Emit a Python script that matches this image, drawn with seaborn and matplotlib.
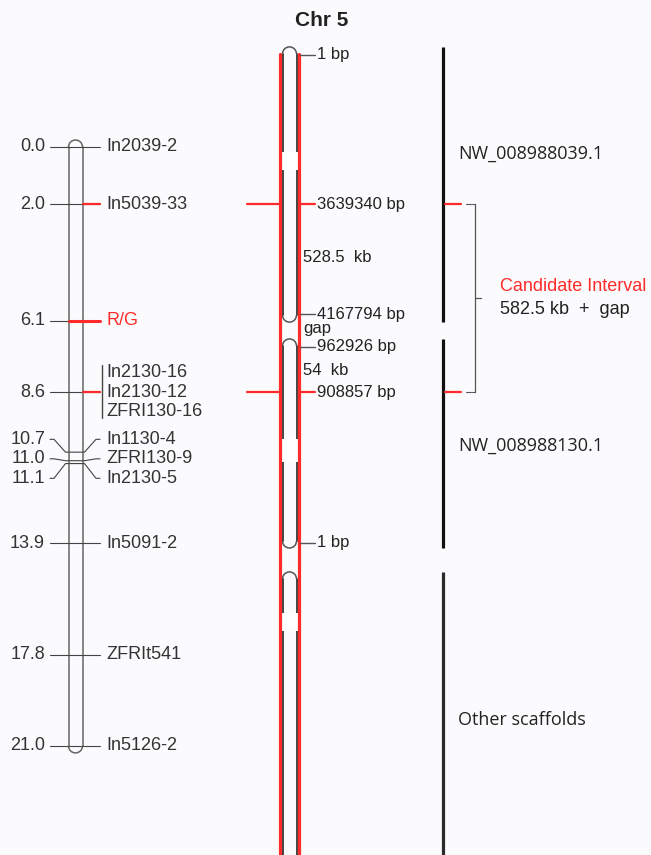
import matplotlib
matplotlib.use("Agg")
import matplotlib.pyplot as plt
from matplotlib.patches import Arc, Rectangle
import seaborn as sns

# genetic linkage map of Chr 5 (cM)
map_cm = [0.0, 2.0, 6.1, 8.6, 10.7, 11.0, 11.1, 13.9, 17.8, 21.0]
map_names = [["In2039-2"], ["In5039-33"], ["R/G"],
             ["In2130-16", "In2130-12", "ZFRI130-16"],
             ["In1130-4"], ["ZFRI130-9"], ["In2130-5"],
             ["In5091-2"], ["ZFRIt541"], ["In5126-2"]]
trait = "R/G"

# physical map (scaffolds), drawn against the same map units
scaffold_names = ["NW_008988039.1", "NW_008988130.1", "Other scaffolds"]
scaffold_top = [-3.51, 6.73, 14.9]
scaffold_bottom = [6.14, 14.06, 25.6]
scaffold_label_pos = [0.25, 10.48, 20.09]
contig_breaks = [(0.18, 0.81), (10.24, 11.04), (16.34, 16.97)]
bp_labels = ["1 bp", "3639340 bp", "4167794 bp", "962926 bp", "908857 bp", "1 bp"]
bp_pos = [-3.23, 2.0, 5.87, 7.0, 8.6, 13.87]
bp_anchor = [None, "In5039-33", None, None, "In2130-12", None]
span_labels = ["528.5  kb", "gap", "54  kb"]
span_pos = [3.88, 6.35, 7.84]
candidate_text = ["Candidate Interval", "582.5 kb  +  gap"]

# canvas / style
PX = 28.52                  # pixels per cM
TOP = -147 / PX
BOTTOM = (855 - 147) / PX
R = 7 / PX                  # cap radius
GAP = 19.5 / PX             # label spacing
BG = "#fbfbfd"
RED = "#ff2b2b"
INK = "#333333"
GREY = "#555555"

sns.set_theme(style="white")
plt.rcParams["font.family"] = ["Liberation Sans", "DejaVu Sans"]

fig = plt.figure(figsize=(6.51, 8.55), dpi=100, facecolor=BG)
ax = fig.add_axes([0, 0, 1, 1])
ax.set_facecolor(BG)
ax.set_xlim(0, 651)
ax.set_ylim(BOTTOM, TOP)
ax.set_axis_off()


def spread_labels(cm, names, gap):
    # merge neighbouring loci whose label stacks would collide
    clusters = [[i] for i in range(len(cm))]

    def info(cl):
        n = sum(len(names[i]) for i in cl)
        c = sum(cm[i] * len(names[i]) for i in cl) / n
        return c, n

    merged = True
    while merged:
        merged = False
        for k in range(len(clusters) - 1):
            c1, n1 = info(clusters[k])
            c2, n2 = info(clusters[k + 1])
            if c1 + (n1 - 1) / 2 * gap + gap > c2 - (n2 - 1) / 2 * gap + 1e-9:
                clusters[k] = clusters[k] + clusters.pop(k + 1)
                merged = True
                break
    slots = {}
    for cl in clusters:
        c, n = info(cl)
        k = 0
        for i in cl:
            slots[i] = []
            for _ in names[i]:
                slots[i].append(c + (k - (n - 1) / 2) * gap)
                k += 1
    owner = {i: cl for cl in clusters for i in cl}
    return slots, owner


# ---- left: genetic map ----
LX0, LX1 = 68.5, 82.5
ax.add_patch(Rectangle((LX0, map_cm[0]), LX1 - LX0, map_cm[-1] - map_cm[0],
                       fc=BG, ec="none", zorder=1))
for x in (LX0, LX1):
    ax.plot([x, x], [map_cm[0], map_cm[-1]], color="#666666", lw=1.1, zorder=2)
ax.add_patch(Arc(((LX0 + LX1) / 2, map_cm[0]), LX1 - LX0, (LX1 - LX0) / PX,
                 theta1=180, theta2=360, color="#666666", lw=1.1, zorder=2))
ax.add_patch(Arc(((LX0 + LX1) / 2, map_cm[-1]), LX1 - LX0, (LX1 - LX0) / PX,
                 theta1=0, theta2=180, color="#666666", lw=1.1, zorder=2))

slots, owner = spread_labels(map_cm, map_names, GAP)
anchored = [a for a in bp_anchor if a]
for i, (c, names) in enumerate(zip(map_cm, map_names)):
    is_trait = trait in names
    is_anchor = any(n in anchored for n in names)
    txt_col = RED if is_trait else INK
    if len(owner[i]) > 1:
        s = slots[i][0]
        ax.plot([50, 54, 65.5, LX0, LX1, 84.5, 96, 100],
                [s, s, c, c, c, c, s, s], color="#444444", lw=0.8, zorder=3)
        val_y = s
    else:
        ax.plot([50, 100], [c, c], color="#444444", lw=0.8, zorder=3)
        val_y = c
        if len(names) > 1:
            ax.plot([101.5, 101.5], [slots[i][0] - 7.5 / PX, slots[i][-1] + 6.5 / PX],
                    color="#444444", lw=1.0, zorder=3)
    if is_trait:
        ax.plot([LX0, 100], [c, c], color=RED, lw=2.2, zorder=4)
    elif is_anchor:
        ax.plot([LX1 + 0.5, 100], [c, c], color=RED, lw=1.6, zorder=4)
    ax.text(45, val_y, f"{c:.1f}", ha="right", va="center", fontsize=13, color=INK)
    for n, s in zip(names, slots[i]):
        ax.text(106, s, n, ha="left", va="center", fontsize=13, color=txt_col)

# ---- middle: physical map ----
MX0, MX1 = 282.5, 296.5
RX0, RX1 = 280.0, 299.0
ax.text(322, -4.45, "Chr 5", ha="center", va="center", fontsize=15,
        fontweight="bold", color="#222222")
for top, bot in zip(scaffold_top, scaffold_bottom):
    ax.add_patch(Rectangle((MX0, top + R), MX1 - MX0, bot - top - 2 * R,
                           fc=BG, ec="none", zorder=1))
    for x in (MX0, MX1):
        ax.plot([x, x], [top + R, bot - R], color="#333333", lw=1.3, zorder=2)
    ax.add_patch(Arc(((MX0 + MX1) / 2, top + R), MX1 - MX0, (MX1 - MX0) / PX,
                     theta1=180, theta2=360, color=GREY, lw=1.1, zorder=2))
    ax.add_patch(Arc(((MX0 + MX1) / 2, bot - R), MX1 - MX0, (MX1 - MX0) / PX,
                     theta1=0, theta2=180, color=GREY, lw=1.1, zorder=2))
for b0, b1 in contig_breaks:
    ax.add_patch(Rectangle((MX0 - 1.5, b0), MX1 - MX0 + 3, b1 - b0,
                           fc="#fefefe", ec="none", zorder=3))
for x in (RX0, RX1):
    ax.plot([x, x], [scaffold_top[0] + R, BOTTOM + 1], color=RED, lw=2.3, zorder=4)

for lab, y, anc in zip(bp_labels, bp_pos, bp_anchor):
    if anc:
        ax.plot([247, RX0], [y, y], color=RED, lw=1.6, zorder=4)
        ax.plot([RX1, 315], [y, y], color=RED, lw=1.6, zorder=4)
    else:
        ax.plot([RX1 + 1, 315], [y, y], color=GREY, lw=1.0, zorder=4)
    ax.text(317, y, lab, ha="left", va="center", fontsize=12, color="#222222")
for lab, y in zip(span_labels, span_pos):
    ax.text(303, y, lab, ha="left", va="center", fontsize=12, color="#222222")

# ---- right: scaffolds and candidate interval ----
for k, (top, bot, name, ly) in enumerate(zip(scaffold_top, scaffold_bottom,
                                              scaffold_names, scaffold_label_pos)):
    ax.plot([443, 443], [top, bot], color="#111111" if k < 2 else "#2a2a2a",
            lw=2.3, solid_capstyle="butt")
    ax.text(458, ly, name, ha="left", va="center", fontsize=13,
            color="#222222", family=["Open Sans", "DejaVu Sans"])

ends = [y for y, a in zip(bp_pos, bp_anchor) if a]
for y in ends:
    ax.plot([445, 461], [y, y], color=RED, lw=1.6)
    ax.plot([466, 471], [y, y], color=GREY, lw=0.8)
    ax.plot([472, 474.5], [y, y], color=GREY, lw=0.8)
ax.plot([474.5, 474.5], [ends[0], ends[-1]], color=GREY, lw=0.9)
mid = (ends[0] + ends[-1]) / 2
ax.plot([474.5, 481], [mid, mid], color=GREY, lw=0.9)
ax.text(500, mid - 11.5 / PX, candidate_text[0], ha="left", va="center",
        fontsize=13, color=RED)
ax.text(500, mid + 11.5 / PX, candidate_text[1], ha="left", va="center",
        fontsize=13, color="#222222")

fig.savefig("out.png", dpi=100, facecolor=BG)
